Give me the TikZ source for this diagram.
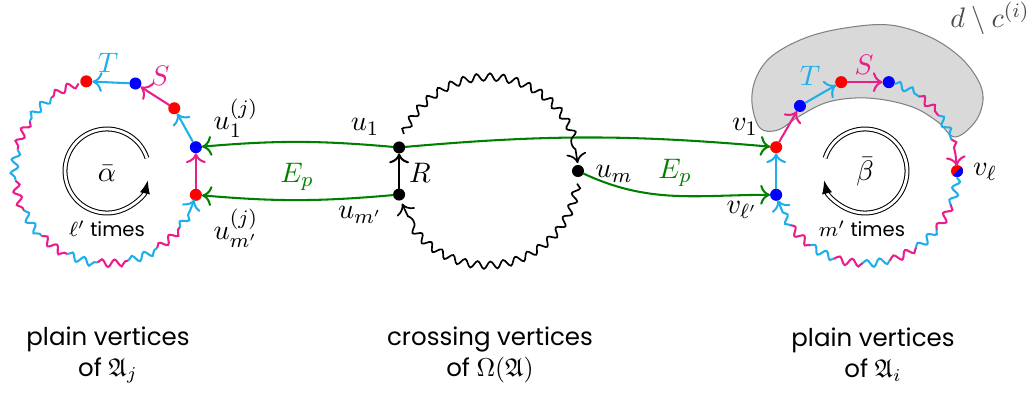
\documentclass[tikz,border=0pt]{standalone}
\usepackage{amsmath,amssymb}
\usepackage{fontspec}
\setmainfont{Poppins}[Scale=0.95]
\usetikzlibrary{arrows.meta,decorations.pathmorphing}

\definecolor{pinkc}{RGB}{233,30,140}
\definecolor{cyanc}{RGB}{30,175,235}
\definecolor{greenc}{RGB}{0,128,0}

\tikzset{
  dot/.style={circle, inner sep=0pt, outer sep=0pt, minimum size=1.64mm},
  rdot/.style={dot, fill=red},
  bdot/.style={dot, fill=blue},
  kdot/.style={dot, fill=black},
  wave/.style={decorate, decoration={snake, amplitude=0.5mm, segment length=1.8mm}},
  wavearr/.style={decorate, decoration={snake, amplitude=0.5mm, segment length=1.8mm, post length=1.7mm}, ->},
  turn/.style={double, double distance=1.1pt, line width=0.4pt, -{Latex[length=1.8mm,width=1.4mm]}},
  lab/.style={font=\fontsize{11}{13}\selectfont},
}

\begin{document}
\begin{tikzpicture}[x=0.1364mm, y=0.1364mm, line width=0.8pt, >={To[length=1.35mm,width=2.7mm]}]
	\useasboundingbox (0,0) rectangle (1035,-392);
	% region d \ c^(i)
	\fill[gray!30, draw=gray, line width=0.4pt] plot[smooth cycle, tension=0.6] coordinates {(752,-103) (756,-78) (772,-56) (805,-38) (845,-28) (890,-25) (930,-37) (960,-57) (978,-80) (983,-100) (975,-122) (955,-137) (938,-122) (915,-108) (885,-100) (855,-98) (825,-103) (798,-117) (778,-130) (760,-128)};

	\coordinate (cl) at (107,-171);
	\coordinate (cm) at (487,-171);
	\coordinate (cr) at (865,-171);

	% left: plain vertices of A_j
	\node[rdot] (uj2) at ([shift={(-15:92)}]cl) {};
	\node[bdot] (uj1) at ([shift={(15:92)}]cl) {};
	\node[rdot] (lr2) at ([shift={(43:92)}]cl) {};
	\node[bdot] (lb3) at ([shift={(72:92)}]cl) {};
	\node[rdot] (lr4) at ([shift={(103:92)}]cl) {};

	% middle: crossing vertices
	\node[kdot] (u1) at ([shift={(165:91)}]cm) {};
	\node[kdot] (um2) at ([shift={(195:91)}]cm) {};
	\node[kdot] (um) at ([shift={(0:91)}]cm) {};

	% right: plain vertices of A_i
	\node[rdot] (v1) at ([shift={(165:92)}]cr) {};
	\node[bdot] (vl2) at ([shift={(195:92)}]cr) {};
	\node[bdot] (rb1) at ([shift={(135:92)}]cr) {};
	\node[rdot] (rr2) at ([shift={(105:92)}]cr) {};
	\node[bdot] (rb3) at ([shift={(75:92)}]cr) {};
	\node[rdot] (vl) at ([shift={(0:92)}]cr) {};
	\fill[blue] (vl.45) arc[start angle=45, end angle=-135, radius=0.82mm] -- cycle;

	\draw[->, pinkc] (uj2) -- (uj1);
	\draw[->, cyanc] (uj1) -- (lr2);
	\draw[->, pinkc] (lr2) -- (lb3);
	\draw[->, cyanc] (lb3) -- (lr4);
	\draw[->] (um2) -- (u1);
	\draw[->, cyanc] (vl2) -- (v1);
	\draw[->, pinkc] (v1) -- (rb1);
	\draw[->, cyanc] (rb1) -- (rr2);
	\draw[->, pinkc] (rr2) -- (rb3);

	\draw[->, greenc] (u1) to[bend right=5] (uj1);
	\draw[->, greenc] (um2) to[bend left=5] (uj2);
	\draw[->, greenc] (u1) to[bend left=5] (v1);
	\draw[->, greenc] (um) to[out=-25, in=180] (vl2);

	% wavy paths
	\foreach \a in {108,147,...,303}
		\draw[wave, pinkc] ([shift={(\a:92)}]cl) arc[start angle=\a, delta angle=19.5, radius=92];
	\foreach \a in {127.5,166.5,...,283.5}
		\draw[wave, cyanc] ([shift={(\a:92)}]cl) arc[start angle=\a, delta angle=19.5, radius=92];
	\draw[wavearr, cyanc] ([shift={(322.5:92)}]cl) arc[start angle=322.5, delta angle=19.5, radius=92];

	\draw[wavearr, line width=0.65pt] ([shift={(156:91)}]cm) arc[start angle=156, end angle=5, radius=91];
	\draw[wavearr, line width=0.65pt] ([shift={(-8:91)}]cm) arc[start angle=-8, end angle=-159, radius=91];

	\foreach \a in {71,37}
		\draw[wave, cyanc] ([shift={(\a:92)}]cr) arc[start angle=\a, delta angle=-17, radius=92];
	\draw[wave, pinkc] ([shift={(54:92)}]cr) arc[start angle=54, delta angle=-17, radius=92];
	\draw[wavearr, pinkc] ([shift={(20:92)}]cr) arc[start angle=20, delta angle=-17, radius=92];
	\foreach \a in {-4,-39,-74,-109}
		\draw[wave, cyanc] ([shift={(\a:92)}]cr) arc[start angle=\a, delta angle=-17.5, radius=92];
	\foreach \a in {-21.5,-56.5,-91.5,-126.5}
		\draw[wave, pinkc] ([shift={(\a:92)}]cr) arc[start angle=\a, delta angle=-17.5, radius=92];
	\draw[wavearr, cyanc] ([shift={(-144:92)}]cr) arc[start angle=-144, delta angle=-17.5, radius=92];

	% loops
	\draw[turn] ([shift={(18:42)}]cl) arc[start angle=18, end angle=347, radius=42];
	\draw[turn] ([shift={(162:42)}]cr) arc[start angle=162, end angle=-167, radius=42];

	% labels
	\node[lab, cyanc] (lT) at (108,-63) {$T$};
	\node[lab, pinkc] (lS) at (160,-76) {$S$};
	\node[lab] (luj1) at (236,-118) {$u_1^{(j)}$};
	\node[lab] (luj2) at (236,-228) {$u_{m'}^{(j)}$};
	\node[lab, greenc] (lEl) at (297,-177) {$E_p$};
	\node[lab] (lu1) at (365,-127) {$u_1$};
	\node[lab] (lum2) at (360,-215) {$u_{m'}$};
	\node[lab] (lR) at (420,-173) {$R$};
	\node[lab] (lum) at (614,-174) {$u_m$};
	\node[lab, greenc] (lEr) at (675,-173) {$E_p$};
	\node[lab] (lv1) at (745,-127) {$v_1$};
	\node[lab] (lvl2) at (742,-210) {$v_{\ell'}$};
	\node[lab] (lvl) at (985,-172) {$v_\ell$};
	\node[lab, cyanc] (rT) at (810,-76) {$T$};
	\node[lab, pinkc] (rS) at (864,-65) {$S$};
	\node[lab, black!70] (ldc) at (990,-18) {$d\setminus c^{(i)}$};
	\node[lab] (lalpha) at (107,-173) {$\bar{\alpha}$};
	\node[font=\footnotesize] (ltl) at (107,-229) {$\ell'$ times};
	\node[lab] (lbeta) at (865,-172) {$\bar{\beta}$};
	\node[font=\footnotesize] (ltr) at (862,-229) {$m'$ times};

	\node[align=center] (capl) at (108,-355) {plain vertices\\ of $\mathfrak{A}_j$};
	\node[align=center] (capm) at (490,-355) {crossing vertices\\ of $\Omega(\mathfrak{A})$};
	\node[align=center] (capr) at (873,-355) {plain vertices\\ of $\mathfrak{A}_i$};
\end{tikzpicture}
\end{document}
